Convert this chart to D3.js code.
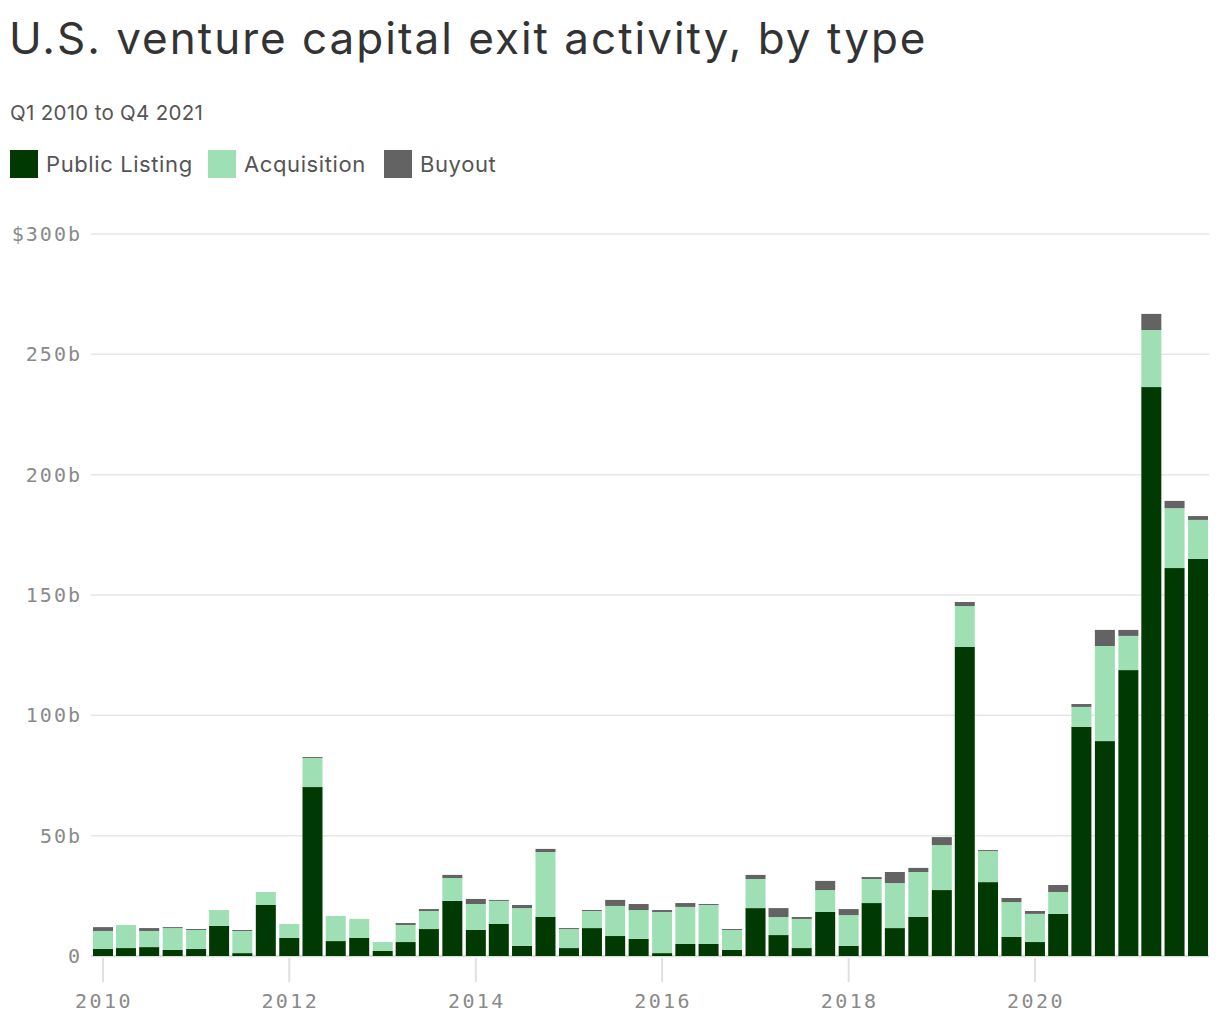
<!DOCTYPE html>
<html>
<head>
<meta charset="utf-8">
<script src="https://cdn.jsdelivr.net/npm/d3@7"></script>
<style>
  body { margin: 0; background: #fff; }
  svg { display: block; }
  .axis text { font-family: "DejaVu Sans Mono", monospace; fill: #8a8a8a; }
</style>
</head>
<body>
<div id="chart"></div>
<script>
// quarters, Q1 2010 .. Q4 2021, values in $b
var quarters = ["Q1 2010","Q2 2010","Q3 2010","Q4 2010",
    "Q1 2011","Q2 2011","Q3 2011","Q4 2011",
    "Q1 2012","Q2 2012","Q3 2012","Q4 2012",
    "Q1 2013","Q2 2013","Q3 2013","Q4 2013",
    "Q1 2014","Q2 2014","Q3 2014","Q4 2014",
    "Q1 2015","Q2 2015","Q3 2015","Q4 2015",
    "Q1 2016","Q2 2016","Q3 2016","Q4 2016",
    "Q1 2017","Q2 2017","Q3 2017","Q4 2017",
    "Q1 2018","Q2 2018","Q3 2018","Q4 2018",
    "Q1 2019","Q2 2019","Q3 2019","Q4 2019",
    "Q1 2020","Q2 2020","Q3 2020","Q4 2020",
    "Q1 2021","Q2 2021","Q3 2021","Q4 2021"];

var publicListing = [2.9, 3.3, 3.7, 2.5, 2.9, 12.5, 1.2, 21.2,
    7.5, 70.2, 6.2, 7.5, 2.1, 5.8, 11.2, 22.9,
    10.8, 13.3, 4.2, 16.2, 3.3, 11.6, 8.3, 7.1,
    1.2, 5.0, 5.0, 2.5, 19.9, 8.7, 3.3, 18.3,
    4.2, 22.0, 11.6, 16.2, 27.4, 128.4, 30.7, 7.9,
    5.8, 17.5, 95.2, 89.3, 118.8, 236.4, 161.2, 165.0];

var acquisition = [7.5, 9.6, 6.7, 9.1, 7.9, 6.6, 9.2, 5.4,
    5.8, 12.1, 10.4, 7.9, 3.7, 7.1, 7.5, 9.5,
    10.8, 9.6, 15.7, 27.0, 7.9, 7.1, 12.5, 12.0,
    17.1, 15.4, 16.2, 8.3, 12.1, 7.5, 12.1, 9.1,
    12.8, 10.0, 18.7, 18.7, 18.7, 17.0, 12.9, 14.5,
    11.7, 9.1, 8.3, 39.5, 14.2, 23.7, 24.9, 16.2];

var buyout = [1.6, 0, 1.2, 0.4, 0.4, 0, 0.4, 0,
    0, 0.4, 0, 0, 0, 0.8, 0.8, 1.3,
    2.1, 0.4, 1.3, 1.3, 0.4, 0.4, 2.5, 2.5,
    0.8, 1.6, 0.4, 0.4, 1.7, 3.7, 0.8, 3.8,
    2.5, 0.8, 4.6, 1.7, 3.3, 1.7, 0.4, 1.7,
    1.2, 2.9, 1.2, 6.7, 2.5, 6.7, 3.0, 1.6];

var keys = ["Public Listing", "Acquisition", "Buyout"];
var colors = ["#003a02", "#9fdfb4", "#636363"];
var yTicks = [0, 50, 100, 150, 200, 250, 300];
var xYears = [2010, 2012, 2014, 2016, 2018, 2020];

var width = 1220;
var height = 1020;
var plotLeft = 91, plotRight = 1209, plotTop = 234, plotBottom = 956;
var barWidth = 20;

var rows = quarters.map(function (q, i) {
    var parts = q.split(" ");
    var qn = +parts[0].slice(1);
    return {
        date: new Date(+parts[1], (qn - 1) * 3, 1),
        "Public Listing": publicListing[i],
        "Acquisition": acquisition[i],
        "Buyout": buyout[i]
    };
});

var svg = d3.select("#chart").append("svg")
    .attr("width", width)
    .attr("height", height);

// title block
svg.append("text")
    .attr("x", 9).attr("y", 54)
    .style("font-family", "Inter, sans-serif")
    .style("font-size", "44px")
    .style("letter-spacing", "2px")
    .style("fill", "#333")
    .text("U.S. venture capital exit activity, by type");

svg.append("text")
    .attr("x", 10).attr("y", 120)
    .style("font-family", "Inter, sans-serif")
    .style("font-size", "20.5px")
    .style("letter-spacing", "0.3px")
    .style("fill", "#555")
    .text("Q1 2010 to Q4 2021");

var legendX = [10, 208, 384];
var legend = svg.selectAll("g.legend").data(keys).enter().append("g")
    .attr("class", "legend")
    .attr("transform", function (d, i) { return "translate(" + legendX[i] + ",150)"; });
legend.append("rect")
    .attr("width", 28).attr("height", 28)
    .attr("fill", function (d, i) { return colors[i]; });
legend.append("text")
    .attr("x", 36).attr("y", 22)
    .style("font-family", "Inter, sans-serif")
    .style("font-size", "22px")
    .style("letter-spacing", "0.6px")
    .style("fill", "#555")
    .text(function (d) { return d; });

var x = d3.scaleTime()
    .domain([new Date(2009, 10, 15), new Date(2021, 10, 13)])
    .range([plotLeft, plotRight]);

var y = d3.scaleLinear()
    .domain([0, 300])
    .range([plotBottom, plotTop]);

// gridlines + y labels
var yAxis = svg.append("g").attr("class", "axis");
yAxis.selectAll("line").data(yTicks).enter().append("line")
    .attr("x1", plotLeft).attr("x2", plotRight)
    .attr("y1", function (d) { return y(d); })
    .attr("y2", function (d) { return y(d); })
    .attr("stroke", function (d) { return d === 0 ? "#dcdcdc" : "#e6e6e6"; })
    .attr("stroke-width", function (d) { return d === 0 ? 2.5 : 1.5; });
yAxis.selectAll("text").data(yTicks).enter().append("text")
    .attr("x", 82)
    .attr("y", function (d) { return y(d) + 7; })
    .attr("text-anchor", "end")
    .style("font-size", "20px")
    .style("letter-spacing", "2px")
    .text(function (d) {
        if (d === 0) return "0";
        return (d === 300 ? "$" : "") + d + "b";
    });

// x ticks
var xAxis = svg.append("g").attr("class", "axis");
xAxis.selectAll("line").data(xYears).enter().append("line")
    .attr("x1", function (d) { return x(new Date(d, 0, 1)); })
    .attr("x2", function (d) { return x(new Date(d, 0, 1)); })
    .attr("y1", plotBottom + 2).attr("y2", plotBottom + 26)
    .attr("stroke", "#e0e0e0")
    .attr("stroke-width", 2);
xAxis.selectAll("text").data(xYears).enter().append("text")
    .attr("x", function (d) { return x(new Date(d, 0, 1)) + 1; })
    .attr("y", 1008)
    .attr("text-anchor", "middle")
    .style("font-size", "20px")
    .style("letter-spacing", "2.4px")
    .text(function (d) { return d; });

// stacked bars
var series = d3.stack().keys(keys)(rows);

svg.append("g").selectAll("g").data(series).enter().append("g")
    .attr("fill", function (d, i) { return colors[i]; })
    .selectAll("rect").data(function (d) { return d; }).enter().append("rect")
    .attr("x", function (d) { return x(d.data.date) - barWidth / 2; })
    .attr("width", barWidth)
    .attr("y", function (d) { return y(d[1]); })
    .attr("height", function (d) { return Math.max(0, y(d[0]) - y(d[1])); });
</script>
</body>
</html>
